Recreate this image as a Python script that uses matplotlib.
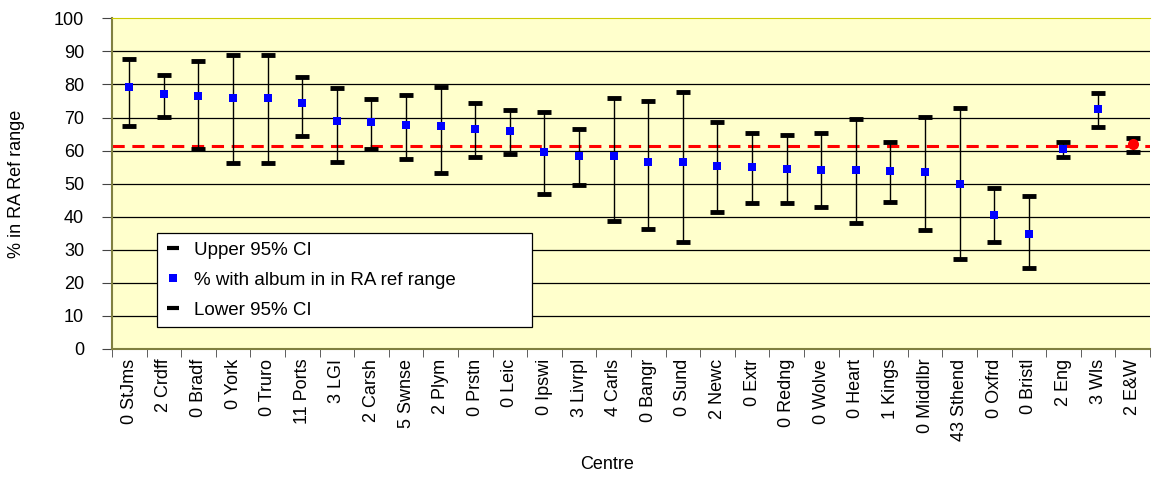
import matplotlib
matplotlib.use('Agg')
import matplotlib.pyplot as plt
from matplotlib.lines import Line2D
import numpy as np

plt.rcParams['font.family'] = ['Liberation Sans', 'DejaVu Sans']

# Centre labels and values
centres = ['0 StJms', '2 Crdff', '0 Bradf', '0 York', '0 Truro', '11 Ports', '3 LGI',
           '2 Carsh', '5 Swnse', '2 Plym', '0 Prstn', '0 Leic', '0 Ipswi', '3 Livrpl',
           '4 Carls', '0 Bangr', '0 Sund', '2 Newc', '0 Extr', '0 Redng', '0 Wolve',
           '0 Heart', '1 Kings', '0 Middlbr', '43 Sthend', '0 Oxfrd', '0 Bristl',
           '2 Eng', '3 Wls', '2 E&W']
upper = [87.6, 83.0, 87.2, 88.9, 88.9, 82.3, 79.0, 75.6, 76.7, 79.1,
         74.5, 72.2, 71.8, 66.6, 76.0, 74.9, 77.6, 68.5, 65.4, 64.7,
         65.4, 69.5, 62.7, 70.2, 72.9, 48.7, 46.4, 62.7, 77.5, 63.9]
mean = [79.1, 77.1, 76.4, 76.0, 76.0, 74.4, 69.0, 68.5, 67.8, 67.4,
        66.6, 65.9, 59.7, 58.5, 58.5, 56.5, 56.5, 55.3, 54.9, 54.5,
        54.1, 54.1, 53.8, 53.4, 49.9, 40.5, 34.7, 60.4, 72.5, 61.9]
lower = [67.4, 70.2, 60.4, 56.1, 56.1, 64.3, 56.5, 60.4, 57.4, 53.3,
         58.2, 58.9, 46.8, 49.6, 38.7, 36.3, 32.5, 41.4, 44.1, 44.1,
         42.9, 38.2, 44.4, 35.9, 27.3, 32.4, 24.6, 58.1, 67.0, 59.7]
ref_line = 61.4

x = np.arange(len(centres))

fig = plt.figure(figsize=(11.52, 4.79), dpi=100)
ax = fig.add_axes([0.0972, 0.2714, 0.9010, 0.6904])
ax.set_facecolor('#FFFFCC')

# horizontal gridlines
for yv in range(10, 100, 10):
    ax.axhline(yv, color='black', linewidth=0.9, zorder=1)

ax.axhline(ref_line, color='#FF0000', linestyle=(0, (4, 2.5)), linewidth=2.2, zorder=2)

# error bar whiskers and caps
ax.vlines(x, lower, upper, color='black', linewidth=1.0, zorder=3)
ax.plot(x, upper, linestyle='none', marker='_', markersize=10.5, markeredgewidth=3.5,
        color='black', zorder=4)
ax.plot(x, lower, linestyle='none', marker='_', markersize=10.5, markeredgewidth=3.5,
        color='black', zorder=4)
ax.plot(x[:-1], mean[:-1], linestyle='none', marker='s', markersize=6,
        color='#0000FF', markeredgewidth=0, zorder=5)
ax.plot(x[-1], mean[-1], linestyle='none', marker='o', markersize=8,
        color='#FF0000', markeredgewidth=0, zorder=5)

ax.set_xlim(-0.5, len(centres) - 0.5)
ax.set_ylim(0, 100)
ax.set_yticks(range(0, 101, 10))
ax.set_xticks(x)
ax.set_xticklabels(centres, rotation=90, fontsize=13)
ax.set_xticks(np.arange(-0.5, len(centres), 1), minor=True)
ax.tick_params(axis='x', which='major', length=0, pad=7)
ax.tick_params(axis='x', which='minor', length=6, direction='out', color='#444444')
ax.tick_params(axis='y', labelsize=13, length=7, direction='out', color='#444444', pad=13)

ax.spines['top'].set_color('#CCCC00')
ax.spines['left'].set_color('#808040')
ax.spines['bottom'].set_color('#808040')
ax.spines['right'].set_visible(False)
ax.spines['left'].set_linewidth(1.5)
ax.spines['bottom'].set_linewidth(1.5)

ax.set_ylabel('% in RA Ref range', fontsize=13)
ax.yaxis.set_label_coords(-0.0838, 0.5)
ax.set_xlabel('Centre', fontsize=13)
ax.xaxis.set_label_coords(0.477, -0.325)

handles = [
    Line2D([], [], linestyle='none', marker='_', markersize=8, markeredgewidth=3, color='black'),
    Line2D([], [], linestyle='none', marker='s', markersize=6, color='#0000FF', markeredgewidth=0),
    Line2D([], [], linestyle='none', marker='_', markersize=8, markeredgewidth=3, color='black'),
]
labels = ['Upper 95% CI', '% with album in in RA ref range', 'Lower 95% CI']
leg = ax.legend(handles, labels, loc='lower left',
                bbox_to_anchor=(0.0434, 0.066, 0.361, 0.28), mode='expand',
                fontsize=13.5, frameon=True, fancybox=False, handlelength=0.8,
                handletextpad=0.7, labelspacing=0.68, borderpad=0.45, borderaxespad=0)
leg.get_frame().set_edgecolor('black')
leg.get_frame().set_linewidth(0.9)
leg.get_frame().set_alpha(1)
leg.set_zorder(10)

fig.savefig('out.png', dpi=100)
